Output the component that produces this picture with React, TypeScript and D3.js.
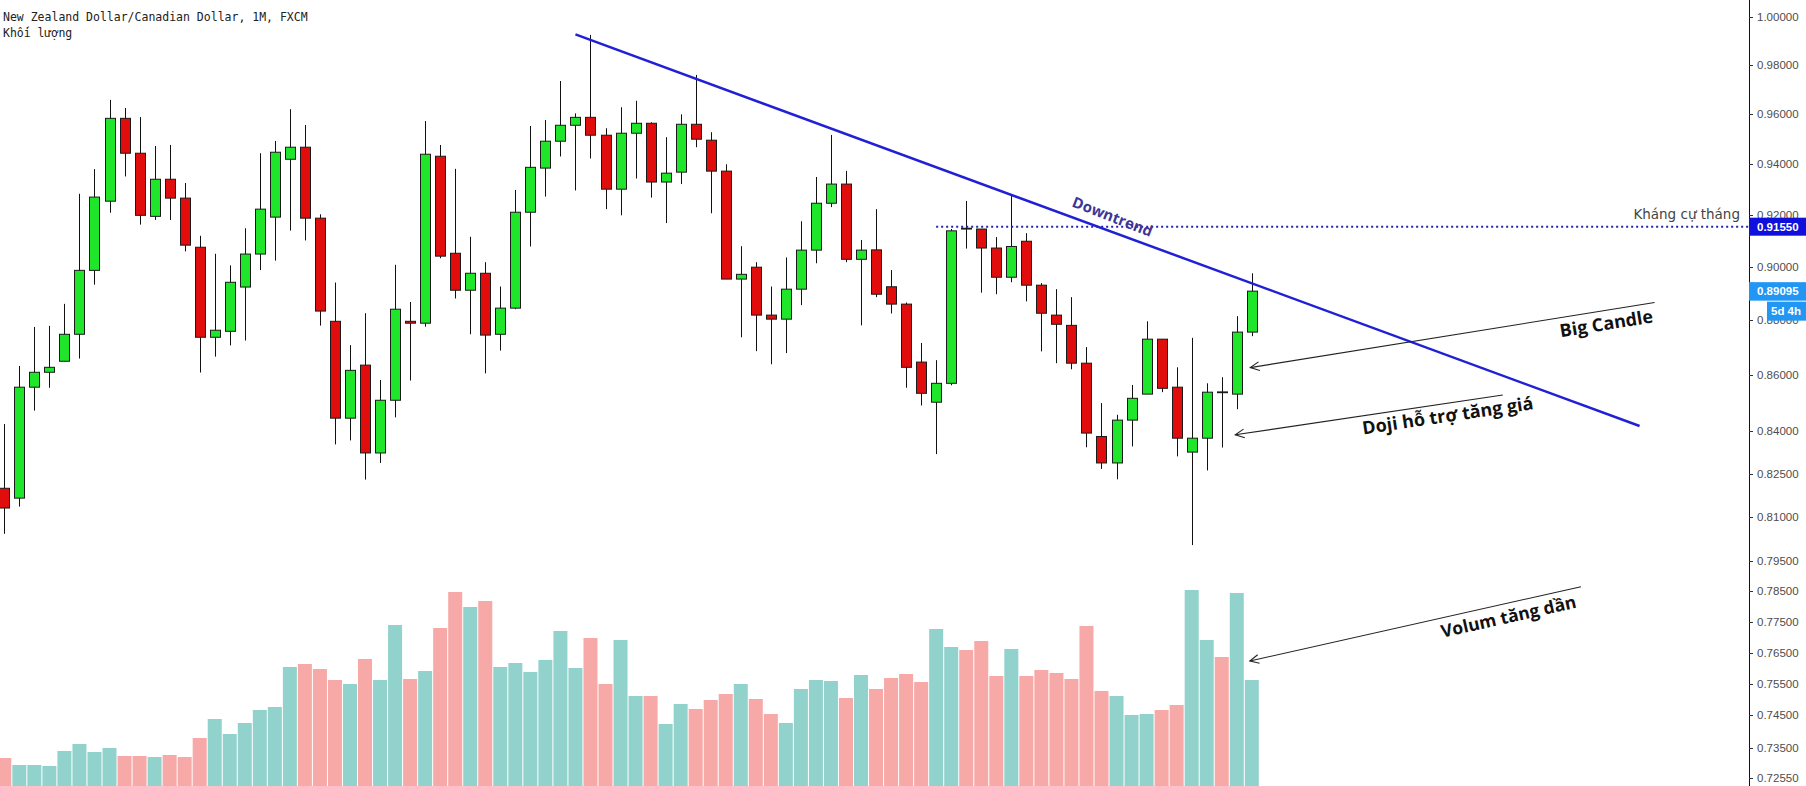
import React from "react";
import * as d3 from "d3";

// ---- Data (NZD/CAD monthly) ----
const opens = [
  0.8199, 0.8165, 0.8556, 0.8610, 0.8650, 0.8749, 0.8988, 0.9254, 0.9583, 0.9443,
  0.9195, 0.9340, 0.9266, 0.9076, 0.8738, 0.8760, 0.8925, 0.9050, 0.9192, 0.9419,
  0.9467, 0.9188, 0.8797, 0.8445, 0.8636, 0.8322, 0.8509, 0.8797, 0.8790, 0.9431,
  0.9053, 0.8913, 0.8977, 0.8749, 0.8846, 0.9211, 0.9384, 0.9491, 0.9555, 0.9587,
  0.9515, 0.9301, 0.9523, 0.9563, 0.9329, 0.9368, 0.9559, 0.9495, 0.9372, 0.8955,
  0.9000, 0.8820, 0.8805, 0.8917, 0.9065, 0.9246, 0.9321, 0.9030, 0.9066, 0.8926,
  0.8861, 0.8647, 0.8502, 0.8570, 0.9149, 0.9146, 0.9073, 0.8962, 0.9099, 0.8932,
  0.8820, 0.8782, 0.8643, 0.8380, 0.8287, 0.8438, 0.8531, 0.8731, 0.8556, 0.8325,
  0.8374, 0.8539, 0.8531, 0.8757,
];
const highs = [
  0.8424, 0.8633, 0.8776, 0.8780, 0.8862, 0.9283, 0.9380, 0.9658, 0.9625, 0.9588,
  0.9472, 0.9476, 0.9325, 0.9120, 0.9051, 0.9007, 0.9149, 0.9443, 0.9492, 0.9620,
  0.9556, 0.9203, 0.8942, 0.8709, 0.8827, 0.8582, 0.9009, 0.8869, 0.9572, 0.9476,
  0.9381, 0.9116, 0.9019, 0.8927, 0.9298, 0.9552, 0.9576, 0.9735, 0.9603, 0.9926,
  0.9543, 0.9628, 0.9654, 0.9567, 0.9507, 0.9599, 0.9760, 0.9527, 0.9399, 0.9080,
  0.9019, 0.8927, 0.9037, 0.9176, 0.9349, 0.9516, 0.9373, 0.9104, 0.9223, 0.8989,
  0.8867, 0.8717, 0.8654, 0.9146, 0.9255, 0.9146, 0.9115, 0.9282, 0.9130, 0.8940,
  0.8917, 0.8887, 0.8702, 0.8499, 0.8457, 0.8564, 0.8797, 0.8731, 0.8628, 0.8736,
  0.8570, 0.8592, 0.8816, 0.8977,
];
const lows = [
  0.8043, 0.8136, 0.8472, 0.8554, 0.8650, 0.8660, 0.8934, 0.9209, 0.9351, 0.9163,
  0.9181, 0.9181, 0.9060, 0.8609, 0.8667, 0.8708, 0.8726, 0.8989, 0.9025, 0.9140,
  0.9102, 0.8781, 0.8352, 0.8366, 0.8229, 0.8287, 0.8448, 0.8580, 0.8777, 0.9034,
  0.8882, 0.8749, 0.8606, 0.8689, 0.8842, 0.9079, 0.9272, 0.9430, 0.9296, 0.9422,
  0.9223, 0.9199, 0.9343, 0.9268, 0.9169, 0.9321, 0.9467, 0.9207, 0.8955, 0.8738,
  0.8687, 0.8639, 0.8680, 0.8857, 0.9015, 0.9231, 0.9019, 0.8782, 0.8887, 0.8826,
  0.8554, 0.8490, 0.8318, 0.8563, 0.9071, 0.8904, 0.8898, 0.8943, 0.8871, 0.8686,
  0.8643, 0.8621, 0.8342, 0.8266, 0.8230, 0.8345, 0.8531, 0.8538, 0.8310, 0.8005,
  0.8261, 0.8341, 0.8477, 0.8742,
];
const closes = [
  0.8131, 0.8556, 0.8610, 0.8628, 0.8749, 0.8988, 0.9270, 0.9583, 0.9443, 0.9199,
  0.9340, 0.9266, 0.9084, 0.8738, 0.8764, 0.8943, 0.9050, 0.9223, 0.9447, 0.9467,
  0.9188, 0.8835, 0.8445, 0.8617, 0.8322, 0.8509, 0.8842, 0.8790, 0.9439, 0.9042,
  0.8913, 0.8977, 0.8746, 0.8846, 0.9211, 0.9387, 0.9491, 0.9555, 0.9587, 0.9515,
  0.9301, 0.9523, 0.9563, 0.9329, 0.9364, 0.9559, 0.9499, 0.9372, 0.8955, 0.8973,
  0.8820, 0.8805, 0.8917, 0.9065, 0.9246, 0.9321, 0.9030, 0.9065, 0.8898, 0.8861,
  0.8628, 0.8534, 0.8570, 0.9139, 0.9147, 0.9073, 0.8962, 0.9079, 0.8932, 0.8827,
  0.8786, 0.8643, 0.8392, 0.8287, 0.8438, 0.8516, 0.8731, 0.8552, 0.8374, 0.8374,
  0.8538, 0.8537, 0.8757, 0.89095,
];
const volumes = [
  28, 21, 21, 20, 35, 42, 34, 38, 30, 30,
  29, 31, 29, 48, 67, 52, 63, 76, 79, 119,
  122, 117, 106, 102, 127, 106, 161, 107, 115, 158,
  194, 179, 185, 119, 123, 114, 126, 155, 118, 148,
  102, 146, 90, 90, 62, 82, 77, 86, 92, 102,
  87, 72, 63, 97, 106, 105, 88, 111, 97, 108,
  112, 104, 157, 139, 136, 145, 110, 137, 110, 116,
  113, 107, 160, 95, 90, 71, 72, 76, 81, 196,
  146, 129, 193, 106,
];
const tickValues = [
  1.0, 0.98, 0.96, 0.94, 0.92, 0.9, 0.88, 0.86, 0.84, 0.825, 0.81, 0.795,
  0.785, 0.775, 0.765, 0.755, 0.745, 0.735, 0.7255,
];
const resistancePrice = 0.9155;
const lastPrice = 0.89095;
const countdownText = "5d 4h";
const titleText = "New Zealand Dollar/Canadian Dollar, 1M, FXCM";
const volumeTitle = "Khối lượng";
const resistanceText = "Kháng cự tháng";
// trendline anchors (bar index, price)
const trendStart = { i: 38.0, p: 0.9928 };
const trendEnd = { i: 108.8, p: 0.8417 };

const W = 1806;
const H = 786;
const AXIS_X = 1749;

export default function App() {
  const x = d3.scaleLinear().domain([0, 83]).range([4.3, 1251.8]);
  const y = d3.scaleLog().domain([0.7255, 1.0]).range([778.4, 17.3]);
  const v = d3.scaleLinear().domain([0, 200]).range([H, H - 200]);

  const bodyW = 10;
  const volW = 14;
  const green = "#1fe62a";
  const red = "#e10c0c";
  const volUp = "#92d2cc";
  const volDown = "#f7a9a7";

  const fmt = d3.format(".5f");

  const arrow = (x1: number, y1: number, x2: number, y2: number) => {
    const dx = x2 - x1;
    const dy = y2 - y1;
    const len = Math.hypot(dx, dy);
    const ux = dx / len;
    const uy = dy / len;
    const a = (26 * Math.PI) / 180;
    const L = 10;
    const r1x = ux * Math.cos(a) - uy * Math.sin(a);
    const r1y = ux * Math.sin(a) + uy * Math.cos(a);
    const r2x = ux * Math.cos(-a) - uy * Math.sin(-a);
    const r2y = ux * Math.sin(-a) + uy * Math.cos(-a);
    return (
      <g>
        <line x1={x2} y1={y2} x2={x1} y2={y1} stroke="#222" strokeWidth={1.1} />
        <path
          d={`M${x1 + r1x * L},${y1 + r1y * L}L${x1},${y1}L${x1 + r2x * L},${y1 + r2y * L}`}
          fill="none"
          stroke="#222"
          strokeWidth={1.1}
        />
      </g>
    );
  };

  const tx1 = x(trendStart.i);
  const ty1 = y(trendStart.p);
  const tx2 = x(trendEnd.i);
  const ty2 = y(trendEnd.p);
  const trendAngle = (Math.atan2(ty2 - ty1, tx2 - tx1) * 180) / Math.PI;

  const bigTip = [x(82.9), y(0.8627)];
  const bigTail = [x(109.8), y(0.8867)];
  const dojiTip = [x(81.9), y(0.8386)];
  const dojiTail = [x(99.7), y(0.8528)];
  const volTip = [x(82.87), v(125)];
  const volTail = [x(104.9), v(199.3)];

  const ang = (a: number[], b: number[]) =>
    (Math.atan2(b[1] - a[1], b[0] - a[0]) * 180) / Math.PI;

  const annFont = "'Open Sans', 'DejaVu Sans', sans-serif";
  const axFont = "'Liberation Sans', Arial, sans-serif";

  return (
    <svg
      width={W}
      height={H}
      style={{ position: "absolute", left: 0, top: 0, background: "#fff" }}
    >
      <rect x={0} y={0} width={W} height={H} fill="#fff" />
      {volumes.map((vol, i) => (
        <rect
          key={"v" + i}
          x={x(i) - volW / 2}
          y={v(vol)}
          width={volW}
          height={H - v(vol)}
          fill={closes[i] >= opens[i] ? volUp : volDown}
        />
      ))}
      {opens.map((o, i) => {
        const c = closes[i];
        const up = c >= o;
        const top = y(Math.max(o, c));
        const bot = y(Math.min(o, c));
        const cx = Math.round(x(i)) + 0.5;
        return (
          <g key={"c" + i}>
            <line x1={cx} x2={cx} y1={y(highs[i])} y2={y(lows[i])} stroke="#111" strokeWidth={1} />
            <rect
              x={cx - bodyW / 2}
              y={top}
              width={bodyW}
              height={Math.max(bot - top, 0.8)}
              fill={up ? green : red}
              stroke="#1a1a1a"
              strokeWidth={1}
            />
          </g>
        );
      })}
      <line
        x1={x(62)}
        x2={AXIS_X}
        y1={y(resistancePrice)}
        y2={y(resistancePrice)}
        stroke="#2222b0"
        strokeWidth={2}
        strokeDasharray="2 3"
      />
      <text
        x={AXIS_X - 9}
        y={y(resistancePrice) - 8}
        textAnchor="end"
        fontFamily="'DejaVu Sans', sans-serif"
        fontSize={13.5}
        fill="#444"
      >
        {resistanceText}
      </text>
      <line x1={tx1} y1={ty1} x2={tx2} y2={ty2} stroke="#2020d6" strokeWidth={2.5} />
      <text
        transform={`translate(${x(73.7)},${y(0.9189)}) rotate(${trendAngle + 1})`}
        textAnchor="middle"
        dominantBaseline="middle"
        fontFamily={annFont}
        fontWeight="bold"
        fontSize={15}
        fill="#3d3596"
      >
        Downtrend
      </text>
      {arrow(bigTip[0], bigTip[1], bigTail[0], bigTail[1])}
      {arrow(dojiTip[0], dojiTip[1], dojiTail[0], dojiTail[1])}
      {arrow(volTip[0], volTip[1], volTail[0], volTail[1])}
      <text
        transform={`translate(${x(106.6)},${y(0.8783)}) rotate(${ang(bigTip, bigTail)})`}
        textAnchor="middle"
        dominantBaseline="middle"
        fontFamily={annFont}
        fontWeight="bold"
        fontSize={18}
        fill="#111"
      >
        Big Candle
      </text>
      <text
        transform={`translate(${x(96.05)},${y(0.8449)}) rotate(${ang(dojiTip, dojiTail)})`}
        textAnchor="middle"
        dominantBaseline="middle"
        fontFamily={annFont}
        fontWeight="bold"
        fontSize={18}
        fill="#111"
      >
        Doji hỗ trợ tăng giá
      </text>
      <text
        transform={`translate(${x(100.1)},${v(168)}) rotate(${ang(volTip, volTail)})`}
        textAnchor="middle"
        dominantBaseline="middle"
        fontFamily={annFont}
        fontWeight="bold"
        fontSize={17.5}
        fill="#111"
      >
        Volum tăng dần
      </text>
      <text x={3} y={21} fontFamily="'DejaVu Sans Mono', monospace" fontSize={11.5} fill="#222">
        {titleText}
      </text>
      <text x={3} y={37} fontFamily="'DejaVu Sans Mono', monospace" fontSize={11.5} fill="#222">
        {volumeTitle}
      </text>
      <rect x={AXIS_X} y={0} width={W - AXIS_X} height={H} fill="#fff" />
      <line x1={AXIS_X + 0.5} x2={AXIS_X + 0.5} y1={0} y2={H} stroke="#111" strokeWidth={1} />
      {tickValues.map((t) => (
        <g key={"t" + t}>
          <line
            x1={AXIS_X}
            x2={AXIS_X + 4}
            y1={Math.round(y(t)) + 0.5}
            y2={Math.round(y(t)) + 0.5}
            stroke="#333"
          />
          <text
            x={AXIS_X + 8}
            y={y(t)}
            dominantBaseline="central"
            fontFamily={axFont}
            fontSize={11.5}
            fill="#4d4d4d"
          >
            {fmt(t)}
          </text>
        </g>
      ))}
      <rect x={AXIS_X} y={y(resistancePrice) - 9} width={W - AXIS_X} height={18} fill="#1010dd" />
      <text
        x={AXIS_X + 8}
        y={y(resistancePrice)}
        dominantBaseline="central"
        fontFamily={axFont}
        fontWeight="bold"
        fontSize={11.5}
        fill="#fff"
      >
        {fmt(resistancePrice)}
      </text>
      <rect x={AXIS_X} y={y(lastPrice) - 9} width={W - AXIS_X} height={18.5} fill="#2196f3" />
      <text
        x={AXIS_X + 8}
        y={y(lastPrice)}
        dominantBaseline="central"
        fontFamily={axFont}
        fontWeight="bold"
        fontSize={11.5}
        fill="#fff"
      >
        {fmt(lastPrice)}
      </text>
      <rect x={AXIS_X + 18} y={y(lastPrice) + 10.5} width={W - AXIS_X - 18} height={19} fill="#2196f3" />
      <text
        x={AXIS_X + 22}
        y={y(lastPrice) + 20}
        dominantBaseline="central"
        fontFamily={axFont}
        fontWeight="bold"
        fontSize={11.5}
        fill="#fff"
      >
        {countdownText}
      </text>
    </svg>
  );
}
